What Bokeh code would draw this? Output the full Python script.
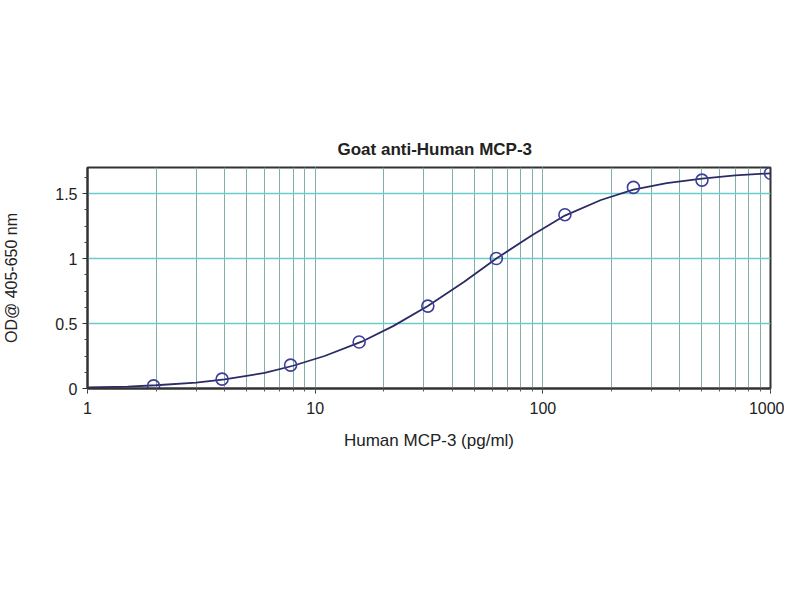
from bokeh.plotting import figure
from bokeh.models import FixedTicker, LogTicker, CustomJSTickFormatter, Range1d
from bokeh.embed import file_html
from bokeh.resources import INLINE

# measured standards (pg/ml) and OD
conc = [1.95, 3.9, 7.8, 15.6, 31.25, 62.5, 125, 250, 500, 1000]
od = [0.02, 0.072, 0.18, 0.358, 0.634, 1.0, 1.337, 1.547, 1.603, 1.656]

# fitted curve
curve_x = [1, 1.5, 2, 3, 4, 6, 8, 11, 16, 22, 31.25, 45, 62.5, 90, 125, 180, 250, 350, 500, 700, 1000]
curve_y = [0.008, 0.015, 0.025, 0.045, 0.07, 0.12, 0.175, 0.25, 0.36, 0.48, 0.635, 0.82, 1.0, 1.18,
           1.33, 1.45, 1.53, 1.58, 1.615, 1.64, 1.655]

y_ticks = [0, 0.5, 1, 1.5]
y_minor = [0.125, 0.25, 0.375, 0.625, 0.75, 0.875, 1.125, 1.25, 1.375, 1.625]

TXT = "#222222"
FONT = "Liberation Sans"

p = figure(width=784, height=584, x_axis_type="log", output_backend="svg", toolbar_location=None,
           x_range=Range1d(1, 1000), y_range=Range1d(0, 1.7),
           min_border_left=82, min_border_right=14, min_border_top=167, min_border_bottom=196)

p.title.text = "Goat anti-Human MCP-3"
p.title.align = "left"
p.title.text_font = FONT
p.title.text_font_size = "17px"
p.title.text_font_style = "bold"
p.title.text_color = TXT
p.title.offset = 250
p.title.standoff = 17

p.outline_line_color = "#333333"
p.outline_line_width = 2
p.background_fill_color = "white"
p.border_fill_color = "white"

# grids
p.xgrid.grid_line_color = "#84aeae"
p.xgrid.grid_line_width = 1
p.xgrid.minor_grid_line_color = "#84aeae"
p.xgrid.minor_grid_line_width = 1
p.ygrid.ticker = FixedTicker(ticks=y_ticks)
p.ygrid.grid_line_color = "#6ccccc"
p.ygrid.grid_line_width = 1.5

# x axis
xa = p.xaxis[0]
xa.ticker = LogTicker(num_minor_ticks=10)
xa.formatter = CustomJSTickFormatter(code="return String(Math.round(tick));")
xa.axis_label = "Human MCP-3 (pg/ml)"
xa.axis_label_text_font = FONT
xa.axis_label_text_font_size = "17px"
xa.axis_label_text_font_style = "normal"
xa.axis_label_text_color = TXT
xa.axis_label_standoff = 14
xa.major_label_text_font = FONT
xa.major_label_text_font_size = "16px"
xa.major_label_text_color = TXT
xa.major_label_standoff = 8
xa.axis_line_color = "#333333"
xa.axis_line_width = 2
xa.major_tick_line_color = "#333333"
xa.major_tick_out = 5
xa.major_tick_in = 0
xa.minor_tick_line_color = "#555555"
xa.minor_tick_out = 3
xa.minor_tick_in = 0

# y axis
ya = p.yaxis[0]
ya.ticker = FixedTicker(ticks=y_ticks, minor_ticks=y_minor)
ya.formatter = CustomJSTickFormatter(code="return tick.toString();")
ya.axis_label = "OD@ 405-650 nm"
ya.axis_label_text_font = FONT
ya.axis_label_text_font_size = "16px"
ya.axis_label_text_font_style = "normal"
ya.axis_label_text_color = TXT
ya.axis_label_standoff = 32
ya.major_label_text_font = FONT
ya.major_label_text_font_size = "16px"
ya.major_label_text_color = TXT
ya.major_label_standoff = 5
ya.axis_line_color = "#333333"
ya.axis_line_width = 2
ya.major_tick_line_color = "#333333"
ya.major_tick_out = 5
ya.major_tick_in = 0
ya.minor_tick_line_color = "#444444"
ya.minor_tick_out = 3
ya.minor_tick_in = 0

p.line(curve_x, curve_y, line_color="#2b2b66", line_width=1.8)
p.scatter(conc, od, marker="circle", size=12, fill_alpha=0, line_color="#3d3d9a", line_width=1.6)

open("out.html", "w").write(file_html(p, INLINE))
